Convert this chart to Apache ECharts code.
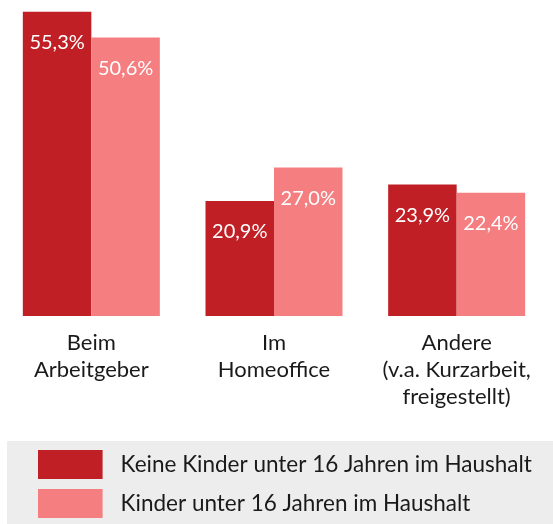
<!DOCTYPE html>
<html>
<head>
<meta charset="utf-8">
<script src="https://cdn.jsdelivr.net/npm/echarts@6/dist/echarts.min.js"></script>
<style>
html,body{margin:0;padding:0;background:#fff;}
#c{width:553px;height:524px;}
</style>
</head>
<body>
<div id="c"></div>
<script>
const categories = ['Beim\nArbeitgeber', 'Im\nHomeoffice', 'Andere\n(v.a. Kurzarbeit,\nfreigestellt)'];
const seriesNames = ['Keine Kinder unter 16 Jahren im Haushalt', 'Kinder unter 16 Jahren im Haushalt'];
const noKids = [55.3, 20.9, 23.9];
const withKids = [50.6, 27.0, 22.4];

const FONT = 'Lato, "Noto Sans", sans-serif';
const chart = echarts.init(document.getElementById('c'), null, {renderer: 'canvas'});

const labelCfg = {
  show: true,
  position: 'insideTop',
  distance: 21,
  color: '#ffffff',
  fontFamily: FONT,
  fontSize: 20,
  lineHeight: 20,
  formatter: p => p.value.toFixed(1).replace('.', ',') + '%'
};

chart.setOption({
  animation: false,
  backgroundColor: '#ffffff',
  color: ['#c01f26', '#f47e80'],
  graphic: [{
    type: 'rect',
    z: -10,
    silent: true,
    shape: {x: 7, y: 441, width: 546, height: 83},
    style: {fill: '#ededed'}
  }],
  grid: {left: -1, right: 5, top: 11.7, bottom: 208, containLabel: false},
  legend: {
    orient: 'vertical',
    left: 38,
    top: 450,
    padding: 0,
    itemWidth: 64.6,
    itemHeight: 29,
    itemGap: 10,
    icon: 'rect',
    selectedMode: false,
    textStyle: {fontFamily: FONT, fontSize: 22.5, color: '#1a1a1a', padding: [0, 0, 0, 13]},
    data: seriesNames
  },
  xAxis: {
    type: 'category',
    data: categories,
    axisLine: {show: false},
    axisTick: {show: false},
    axisLabel: {
      interval: 0,
      margin: 13,
      fontFamily: FONT,
      fontSize: 22,
      lineHeight: 27,
      color: '#1a1a1a',
      align: 'center'
    }
  },
  yAxis: {
    type: 'value',
    min: 0,
    max: 'dataMax',
    show: false,
    splitLine: {show: false}
  },
  series: [
    {name: seriesNames[0], type: 'bar', data: noKids, barWidth: 68.5, barGap: '0%', label: labelCfg},
    {name: seriesNames[1], type: 'bar', data: withKids, barWidth: 68.5, barGap: '0%', label: labelCfg}
  ]
});
</script>
</body>
</html>
